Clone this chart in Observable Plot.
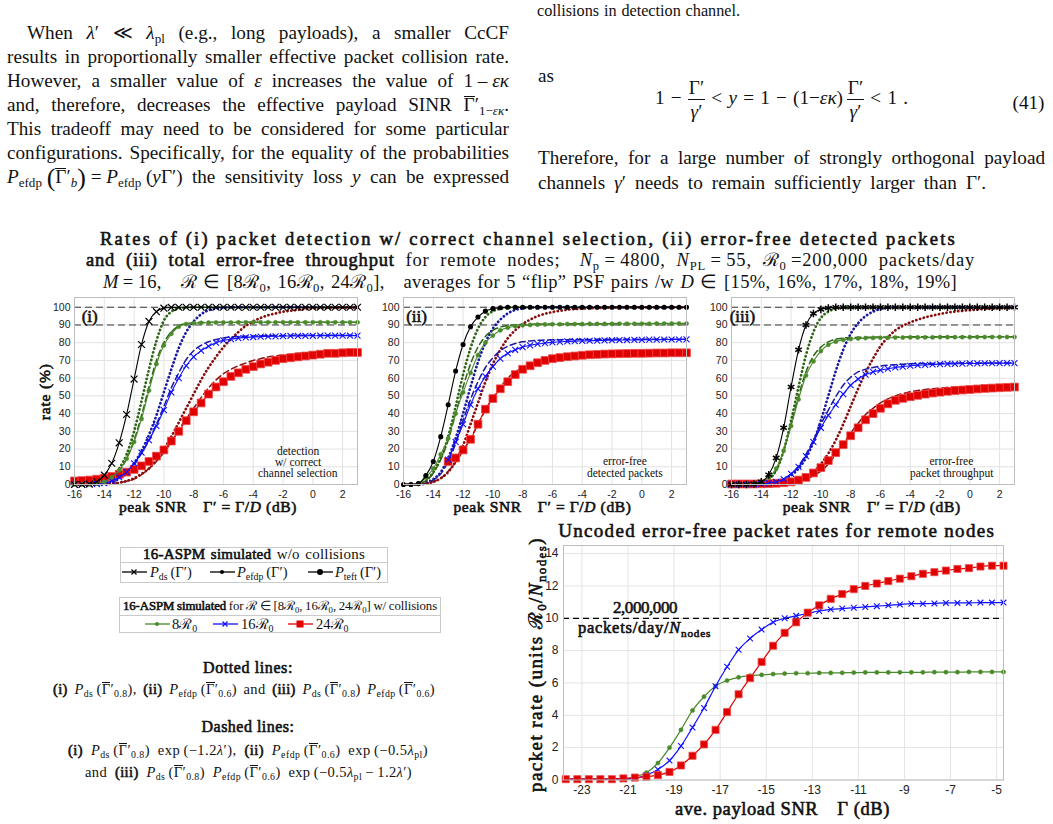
<!DOCTYPE html>
<html>
<head>
<meta charset="utf-8">
<script src="https://cdn.jsdelivr.net/npm/d3@7"></script>
<script src="https://cdn.jsdelivr.net/npm/@observablehq/plot@0.6"></script>
<style>
  html, body { margin: 0; padding: 0; background: #fff; }
  #page { position: relative; width: 1053px; height: 824px; overflow: hidden;
          font-family: "Liberation Serif", "Times New Roman", serif; color: #111; }
  .t { position: absolute; white-space: nowrap; line-height: 1; text-decoration: none; }
  .t sub { font-size: 68%; vertical-align: -0.32em; line-height: 0; }
  .t b { font-weight: normal; -webkit-text-stroke: 0.6px currentColor; }
  .nw { word-spacing: 0; }
  .ol { display: inline-block; border-top: 0.065em solid currentColor; line-height: 0.88em; }
  .bp { font-size: 135%; vertical-align: -0.1em; line-height: 0; }
  .frac { display: inline-block; vertical-align: middle; text-align: center; }
  .frac > span { display: block; line-height: 1.2; padding: 0 1px; }
  .frac > span.den { border-top: 1px solid #111; }
  .chart { position: absolute; }
  .box { position: absolute; border: 1px solid #cacaca; box-sizing: border-box; }
  .sep { position: absolute; border-top: 1px solid #cacaca; }
</style>
</head>
<body>
<div id="page"></div>
<script>
// ---------- peak SNR grid (dB) shared by the three rate panels ----------
const gammaPeak = [-16,-15.5,-15,-14.5,-14,-13.5,-13,-12.5,-12,-11.5,-11,-10.5,-10,-9.5,-9,-8.5,-8,-7.5,-7,-6.5,-6,-5.5,-5,-4.5,-4,-3.5,-3,-2.5,-2,-1.5,-1,-0.5,0,0.5,1,1.5,2,2.5,3];
const xTicksPeak = [-16,-14,-12,-10,-8,-6,-4,-2,0,2];
const yTicksRate = [0,10,20,30,40,50,60,70,80,90,100];
const refLevels = [90, 100];

// ---------- (i) detection w/ correct channel selection (%) ----------
const detSim = [0,0,0.3,1.5,5.3,12,23.5,39.5, 59.5,79,92,97.5,99.5,99.9,100,100, 100,100,100,100,100,100,100,100, 100,100,100,100,100,100,100,100, 100,100,100,100,100,100,100];
const detG8 = [0,0,0,0.5,1.5,4,8,14.5, 24,37,53,68,78.5,85,89,90.5, 91,91.2,91.3,91.4,91.4,91.4,91.5,91.5, 91.5,91.5,91.5,91.5,91.5,91.5,91.5,91.5, 91.5,91.5,91.5,91.5,91.5,91.5,91.5];
const detG8Dot = [0,0,0.1,0.5,1.5,4,9,17, 30,47,65,81,92.5,97.5,99.3,99.8, 100,100,100,100,100,100,100,100, 100,100,100,100,100,100,100,100, 100,100,100,100,100,100,100];
const detG8Dash = [0,0,0,0.3,1.2,3.5,7.5,14.5, 25,39,55,70,80,86,89.5,90.8, 91.2,91.4,91.5,91.5,91.5,91.6,91.6,91.6, 91.6,91.6,91.6,91.6,91.6,91.6,91.6,91.6, 91.6,91.6,91.6,91.6,91.6,91.6,91.6];
const detB16 = [0,0,0,0.2,0.8,2,4,7, 12,18,25,33,42,52,60,67, 72,75.5,78,80,81.3,82,82.6,83, 83.2,83.4,83.5,83.6,83.7,83.8,83.8,83.9, 83.9,84,84,84,84,84,84];
const detB16Dot = [0,0,0,0.2,0.6,1.5,3.5,7, 12,19,28,39,52,65,77,86, 92,96,98.3,99.3,99.7,99.9,100,100, 100,100,100,100,100,100,100,100, 100,100,100,100,100,100,100];
const detB16Dash = [0,0,0,0.1,0.5,1.3,3,6, 11,17.5,25,34,44,54.5,63,70.5, 75.5,78.5,80.5,81.8,82.7,83.2,83.5,83.7, 83.8,83.9,84,84,84.1,84.1,84.2,84.2, 84.2,84.2,84.2,84.2,84.2,84.2,84.2];
const detR24 = [2,2.2,2.5,3,3.6,4.5,5.8,7, 8.5,10.5,13,16,19.5,24.5,30,36, 41,46,51,55,58,61,63,65, 66.5,68,69,70,71,71.5,72,72.5, 73,73.5,74,74,74.3,74.5,74.5];
const detR24Dot = [0,0,0,0,0.2,0.5,1,2, 3.5,6,9,14,20,27,35,43, 51,59,66,72,77.5,82,86,89.5, 92,94,95.5,96.5,97.5,98,98.5,99, 99.3,99.5,99.6,99.7,99.8,99.8,99.9];
const detR24Dash = [0,0,0,0,0.2,0.5,1,1.8, 3,5.5,9,13,18,24,31,37, 43,49,54.5,59,62.5,65,67,68.5, 70,71,72,72.5,73,73.5,74,74.3, 74.6,74.8,75,75.2,75.3,75.4,75.5];

// ---------- (ii) error-free detected packets (%) ----------
const efdSim = [0,0,0.5,5,13,27,45,64, 79,89,94.5,97.8,99.2,99.7,100,100, 100,100,100,100,100,100,100,100, 100,100,100,100,100,100,100,100, 100,100,100,100,100,100,100];
const efdG8 = [null,0,0.5,4,9,17,26,40, 52,63,73,80,84,87,88.5,89.3, 89.8,90,90.2,90.3,90.4,90.4,90.5,90.5, 90.5,90.6,90.6,90.6,90.6,90.7,90.7,90.7, 90.7,90.7,90.8,90.8,90.8,90.8,90.8];
const efdG8Dot = [0,0,0.3,2,7,15,27,44, 62,77,88,94.5,97.8,99.2,99.8,100, 100,100,100,100,100,100,100,100, 100,100,100,100,100,100,100,100, 100,100,100,100,100,100,100];
const efdG8Dash = [0,0,0.3,2,6.5,14,25,40, 55,68,77.5,83.5,87,88.8,89.7,90.1, 90.3,90.4,90.5,90.5,90.6,90.6,90.6,90.7, 90.7,90.7,90.7,90.7,90.8,90.8,90.8,90.8, 90.8,90.8,90.8,90.8,90.8,90.8,90.8];
const efdB16 = [null,null,null,null,null,null,14,24, 34,45,54,61,66.5,71,74,76, 77.5,78.5,79.3,79.8,80.2,80.5,80.7,80.9, 81,81.1,81.2,81.3,81.4,81.5,81.5,81.6, 81.6,81.7,81.7,81.8,81.8,81.8,81.9];
const efdB16Dot = [0,0,0,1,3,7,15,26, 40,55,69,80,88,93,96.5,98.5, 99.4,99.8,100,100,100,100,100,100, 100,100,100,100,100,100,100,100, 100,100,100,100,100,100,100];
const efdB16Dash = [0,0,0,0.5,2.5,6,13,23, 36,48,58,66,71.5,75.5,78,79.5, 80.5,81,81.3,81.5,81.6,81.7,81.7,81.8, 81.8,81.8,81.9,81.9,81.9,82,82,82, 82,82,82,82,82,82,82];
const efdR24 = [null,null,null,null,null,null,13,15, 19.5,25.5,34,42.5,48.5,54,58,62, 65,67,68.7,70,71,71.6,72.1,72.5, 72.9,73.2,73.4,73.6,73.7,73.8,73.9,74, 74,74.1,74.2,74.2,74.3,74.3,74.3];
const efdR24Dot = [0,0,0,0.5,1.5,3.5,7,13, 22,34,46,58,68,76,82.5,87, 90.5,93,95,96.3,97.3,98,98.6,99, 99.3,99.5,99.6,99.7,99.8,99.9,99.9,99.9, 100,100,100,100,100,100,100];
const efdR24Dash = [0,0,0,0.3,1.5,3.5,7.5,12.5, 19,26,34,42,49,55,60,63.5, 66,68,69.5,70.5,71.3,72,72.4,72.8, 73.1,73.3,73.5,73.7,73.8,73.9,74,74, 74.1,74.2,74.2,74.3,74.3,74.3,74.4];

// ---------- (iii) error-free packet throughput (%) ----------
const thrSim = [0,0,0,0.3,1.5,5.5,15,32, 55,76,90,96.5,98.8,99.6,100,100, 100,100,100,100,100,100,100,100, 100,100,100,100,100,100,100,100, 100,100,100,100,100,100,100];
const thrG8 = [0,0,0,0.3,1.5,4,9,19, 33,48,61.5,69.5,75.3,78.8,80.6,81.6, 82.1,82.4,82.6,82.7,82.8,82.8,82.9,82.9, 83,83,83,83,83.1,83.1,83.1,83.1, 83.1,83.2,83.2,83.2,83.2,83.2,83.2];
const thrG8Dot = [0,0,0,0.2,1,3,8,19, 36,55,73,86,94,97.5,99.2,99.8, 100,100,100,100,100,100,100,100, 100,100,100,100,100,100,100,100, 100,100,100,100,100,100,100];
const thrG8Dash = [0,0,0,0.2,1,3,8,19, 34,50,63.5,72.5,77.5,80.5,82,82.6, 82.9,83,83.1,83.1,83.2,83.2,83.2,83.2, 83.3,83.3,83.3,83.3,83.3,83.3,83.3,83.3, 83.3,83.3,83.3,83.3,83.3,83.3,83.3];
const thrB16 = [0,0,0,0,0.3,0.8,1.5,3, 6,10,16,24,32,39,45,51, 56,59.5,62,63.5,64.5,65.3,66,66.5, 67,67.3,67.5,67.7,67.9,68,68.1,68.2, 68.3,68.3,68.4,68.4,68.5,68.5,68.5];
const thrB16Dot = [0,0,0,0,0.3,0.6,1,2.5, 5,9,15,24,36,50,64,76, 85,91,95,97.5,99,99.6,100,100, 100,100,100,100,100,100,100,100, 100,100,100,100,100,100,100];
const thrB16Dash = [0,0,0,0,0.3,0.7,1.5,3.2, 6,10.5,17,25,34,42,49.5,56, 60.5,63.5,65,66,66.8,67.3,67.6,67.9, 68.1,68.2,68.3,68.3,68.4,68.4,68.5,68.5, 68.5,68.6,68.6,68.6,68.6,68.6,68.6];
const thrR24 = [0.3,0.3,0.3,0.3,0.4,0.5,0.7,1, 1.5,2.5,4,6.5,9.5,13.5,18,22.5, 27.5,32,36.5,40,43,45.5,47.5,48.6, 49.5,50.3,51,51.6,52.1,52.6,53,53.3, 53.6,53.9,54.2,54.4,54.6,54.8,55];
const thrR24Dot = [0,0,0,0,0,0.2,0.5,0.8, 1.3,2.2,4,7,11.5,17.5,25,34, 44,54,63,71,78,83,87,89.5, 91.5,93,94.3,95.3,96.2,97,97.6,98, 98.4,98.7,99,99.2,99.4,99.5,99.6];
const thrR24Dash = [0,0,0,0,0,0,0.3,0.6, 1,1.8,3,5,7.5,11.5,17,23, 29,34.5,39.5,43,46,48.3,50,51.3, 52.3,53,53.6,54,54.4,54.7,55,55.2, 55.3,55.4,55.5,55.5,55.6,55.6,55.6];

// ---------- uncoded error-free packet rate vs. average payload SNR ----------
const gammaAve = [-23.7,-23.2,-22.7,-22.2,-21.7,-21.2,-20.7,-20.2,-19.7,-19.2,-18.7,-18.2,-17.7,-17.2,-16.7,-16.2,-15.7,-15.2,-14.7,-14.2,-13.7,-13.2,-12.7,-12.2,-11.7,-11.2,-10.7,-10.2,-9.7,-9.2,-8.7,-8.2,-7.7,-7.2,-6.7,-6.2,-5.7,-5.2,-4.7];
const xTicksAve = [-23,-21,-19,-17,-15,-13,-11,-9,-7,-5];
const yTicksAve = [0,2,4,6,8,10,12,14];
const targetRate = [10];
const rateG8 = [0.05,0.05,0.05,0.05,0.05,0.05,0.2,0.45, 1.05,2,3.1,4.3,5.15,5.8,6.15,6.35, 6.45,6.5,6.55,6.58,6.6,6.6,6.62,6.62, 6.63,6.64,6.65,6.65,6.65,6.66,6.66,6.66, 6.67,6.67,6.67,6.68,6.68,6.68,6.68];
const rateB16 = [0.05,0.05,0.05,0.05,0.05,0.05,0.1,0.3, 0.65,1.2,2.1,3.25,4.45,5.8,7,8.05, 8.75,9.3,9.75,10,10.15,10.3,10.45,10.55, 10.6,10.65,10.7,10.75,10.8,10.85,10.9,10.9, 10.92,10.95,10.95,10.95,10.97,10.97,10.97];
const rateR24 = [0.05,0.05,0.05,0.05,0.05,0.1,0.15,0.2, 0.3,0.5,0.9,1.5,2.2,3.1,4.2,5.3, 6.3,7.3,8.3,9.1,9.75,10.35,10.8,11.2, 11.5,11.8,12,12.15,12.3,12.45,12.6,12.75, 12.85,12.95,13.05,13.1,13.2,13.25,13.25];

// ---------- colours ----------
const C = {
  green: "#4a8a2a", greenDk: "#2d6415",
  blue: "#1010ff", blueDk: "#1a1aa0",
  red: "#e00000", redEdge: "#f04848", redDk: "#880c0c",
  ref: "#3a3a3a"
};

const page = document.getElementById("page");

// Positioned text; optional width fill by letter-spacing, word-spacing or both.
function put(html, o) {
  const d = document.createElement("div");
  d.className = "t";
  d.innerHTML = html;
  d.style.fontSize = (o.size || 14) + "px";
  if (o.color) d.style.color = o.color;
  page.appendChild(d);
  if (o.width) {
    const extra = o.width - d.getBoundingClientRect().width;
    const fixed = [...d.querySelectorAll(".nw")].reduce((s, e) => s + (e.textContent.match(/ /g) || []).length, 0);
    const nSp = (d.textContent.match(/ /g) || []).length - fixed;
    const nCh = [...d.textContent].length;
    if (o.fill === "word" && nSp) d.style.wordSpacing = (extra / nSp) + "px";
    else if (o.fill === "both" && nSp) {
      d.style.wordSpacing = (extra * 0.4 / nSp) + "px";
      d.style.letterSpacing = (extra * 0.6 / nCh) + "px";
    } else d.style.letterSpacing = (extra / nCh) + "px";
  }
  const w = d.offsetWidth, h = d.offsetHeight;
  const left = o.anchor === "start" ? o.x : o.anchor === "end" ? o.x - w : o.x - w / 2;
  d.style.left = left + "px";
  d.style.top = (o.y - h / 2) + "px";
  if (o.rotate) d.style.transform = `rotate(${o.rotate}deg)`;
  return d;
}
function block(cls, x, y, w, h) {
  const d = document.createElement("div");
  d.className = cls;
  Object.assign(d.style, {left: x + "px", top: y + "px", width: w + "px"});
  if (h != null) d.style.height = h + "px";
  page.appendChild(d);
}

// ---------- body text ----------
const G = '<span class="ol">Γ</span>′';
const bodyLines = [
  [`When <i>λ</i>′ ≪ <i>λ</i><sub>pl</sub> (e.g., long payloads), a smaller CcCF`, 27, 32],
  [`results in proportionally smaller effective packet collision rate.`, 7, 56],
  [`However, a smaller value of <i>ε</i> increases the value of <span class="nw">1 – <i>εκ</i></span>`, 7, 80],
  [`and, therefore, decreases the effective payload SINR ${G}<sub>1−<i>εκ</i></sub>.`, 7, 104],
  [`This tradeoff may need to be considered for some particular`, 7, 128],
  [`configurations. Specifically, for the equality of the probabilities`, 7, 152],
  [`<span class="nw"><i>P</i><sub>efdp</sub> <span class="bp">(</span>${G}<sub><i>b</i></sub><span class="bp">)</span> = <i>P</i><sub>efdp</sub> (<i>y</i>Γ′)</span> the sensitivity loss <i>y</i> can be expressed`, 7, 176]
];
bodyLines.forEach(([h, x, y]) => put(h, {x, y, size: 19.2, anchor: "start", width: 509 - x, fill: "word"}));

put(`collisions in detection channel.`, {x: 537, y: 11, size: 16.2, anchor: "start", width: 203, fill: "word"});
put(`as`, {x: 538, y: 75, size: 19.2, anchor: "start"});
// equation (41)
const frac = `<span class="frac"><span>Γ′</span><span class="den"><i>γ</i>′</span></span>`;
put(`1 − ${frac} &lt; <i>y</i> = 1 − (1−<i>εκ</i>)\u2009${frac} &lt; 1 .`, {x: 655, y: 99, size: 19.2, anchor: "start", width: 253, fill: "word"});
put(`(41)`, {x: 1028.5, y: 102, size: 19.2});
put(`Therefore, for a large number of strongly orthogonal payload`, {x: 538, y: 157, size: 19.2, anchor: "start", width: 507, fill: "word"});
put(`channels <i>γ</i>′ needs to remain sufficiently larger than Γ′.`, {x: 538, y: 182, size: 19.2, anchor: "start", width: 448, fill: "word"});

// ---------- figure heading ----------
const R0 = "ℛ<sub>0</sub>";
put(`<b>Rates of (i) packet detection w/ correct channel selection, (ii) error-free detected packets</b>`, {x: 100, y: 239, size: 18.5, anchor: "start", width: 857});
put(`<b>and (iii) total error-free throughput</b> for remote nodes;\u2003<i>N</i><sub>p</sub>\u2009=\u20094800, <i>N</i><sub>PL</sub>\u2009=\u200955, ${R0}\u2009=200,000 packets/day`, {x: 86, y: 260, size: 18.5, anchor: "start", width: 889, fill: "both"});
put(`<i>M</i>\u2009=\u200916,\u2003ℛ ∈ [8${R0}, 16${R0}, 24${R0}],\u2003averages for 5 “flip” PSF pairs /w <i>D</i> ∈ [15%, 16%, 17%, 18%, 19%]`, {x: 103, y: 282, size: 18.5, anchor: "start", width: 854, fill: "both"});

// ---------- rate panels ----------
const LINE = {
  dot:   {strokeWidth: 2.7, strokeDasharray: "0.2 3.7", strokeLinecap: "round"},
  dash:  {strokeWidth: 1.5, strokeDasharray: "6 3.5"},
  solid: {strokeWidth: 1.1}
};
const axisFont = {fontFamily: "'Liberation Sans', Arial, sans-serif", fontSize: "10.5px", color: "#222", background: "transparent", overflow: "visible"};

function ratePanel(s) {
  const pts = ys => gammaPeak.map((x, i) => ({x, y: ys[i]}));
  const line = (ys, stroke, kind) => Plot.line(pts(ys), {x: "x", y: "y", stroke, curve: "monotone-x", ...LINE[kind]});
  return Plot.plot({
    width: 329, height: 214,
    marginLeft: 40, marginRight: 6, marginTop: 7, marginBottom: 20,
    x: {domain: [-16, 3]},
    y: {domain: [0, 105.5]},
    style: axisFont,
    marks: [
      Plot.gridX({ticks: xTicksPeak, stroke: "#e2e2e2", strokeOpacity: 1}),
      Plot.gridY({ticks: yTicksRate, stroke: "#e2e2e2", strokeOpacity: 1}),
      Plot.ruleY(refLevels, {stroke: C.ref, strokeWidth: 1, strokeDasharray: "7 4"}),
      line(s.gDot, C.greenDk, "dot"), line(s.bDot, C.blueDk, "dot"), line(s.rDot, C.redDk, "dot"),
      line(s.gDash, C.greenDk, "dash"), line(s.bDash, C.blueDk, "dash"), line(s.rDash, C.redDk, "dash"),
      line(s.r, C.red, "solid"),
      Plot.dot(pts(s.r), {x: "x", y: "y", symbol: "square", r: 4.4, fill: C.red, stroke: C.redEdge, strokeWidth: 0.8}),
      line(s.b, C.blue, "solid"),
      Plot.dot(pts(s.b), {x: "x", y: "y", symbol: "times", r: 2.8, fill: "none", stroke: C.blue, strokeWidth: 1.1}),
      line(s.g, C.green, "solid"),
      Plot.dot(pts(s.g), {x: "x", y: "y", symbol: "circle", r: 2.1, fill: C.green, stroke: C.green, strokeWidth: 0.5}),
      line(s.sim, "#000", "solid"),
      Plot.dot(pts(s.sim), {x: "x", y: "y", ...s.simMark}),
      Plot.frame({stroke: "#bdbdbd"}),
      Plot.axisX({ticks: xTicksPeak, tickSize: 0, tickPadding: 6, tickFormat: d => String(d), label: null}),
      Plot.axisY({ticks: yTicksRate, tickSize: 0, tickPadding: 4, tickFormat: d => String(d), label: null})
    ]
  });
}
function mount(svg, left, top) {
  const d = document.createElement("div");
  d.className = "chart";
  d.style.left = left + "px"; d.style.top = top + "px";
  d.appendChild(svg);
  page.appendChild(d);
}

mount(ratePanel({sim: detSim, simMark: {symbol: "times", r: 3.2, fill: "none", stroke: "#000", strokeWidth: 1.2},
  g: detG8, gDot: detG8Dot, gDash: detG8Dash, b: detB16, bDot: detB16Dot, bDash: detB16Dash,
  r: detR24, rDot: detR24Dot, rDash: detR24Dash}), 34, 290);
mount(ratePanel({sim: efdSim, simMark: {symbol: "circle", r: 1.8, fill: "#000", stroke: "#000"},
  g: efdG8, gDot: efdG8Dot, gDash: efdG8Dash, b: efdB16, bDot: efdB16Dot, bDash: efdB16Dash,
  r: efdR24, rDot: efdR24Dot, rDash: efdR24Dash}), 363, 290);
mount(ratePanel({sim: thrSim, simMark: {symbol: "asterisk", r: 3.6, fill: "none", stroke: "#000", strokeWidth: 1.5},
  g: thrG8, gDot: thrG8Dot, gDash: thrG8Dash, b: thrB16, bDot: thrB16Dot, bDash: thrB16Dash,
  r: thrR24, rDot: thrR24Dot, rDash: thrR24Dash}), 691, 290);

// panel tags, notes and axis titles
put("<b>(i)</b>", {x: 89.7, y: 316, size: 17});
put("<b>(ii)</b>", {x: 416.7, y: 316.5, size: 17});
put("<b>(iii)</b>", {x: 742.7, y: 316.5, size: 17});
[["detection", 298, 451.5], ["w/ correct", 298, 462.5], ["channel selection", 298, 473.5],
 ["error-free", 625, 461.5], ["detected packets", 625, 473.5],
 ["error-free", 951.5, 461.5], ["packet throughput", 951.5, 473.5]]
  .forEach(([h, x, y]) => put(h, {x, y, size: 11.5}));
const xTitle = `<b>peak SNR\u2003Γ′ = Γ/<i>D</i> (dB)</b>`;
[208, 542.5, 871.7].forEach(x => put(xTitle, {x, y: 507, size: 15.5, width: 178}));
put("<b>rate (%)</b>", {x: 44.7, y: 392, size: 15.5, rotate: -90, width: 57});

// ---------- packet-rate chart ----------
{
  const pts = ys => gammaAve.map((x, i) => ({x, y: ys[i]}));
  const chart = Plot.plot({
    width: 490, height: 266,
    marginLeft: 40, marginRight: 10, marginTop: 7, marginBottom: 24.5,
    x: {domain: [-23.8, -4.7]},
    y: {domain: [0, 14.5]},
    style: {...axisFont, fontSize: "12px"},
    marks: [
      Plot.gridX({ticks: xTicksAve, stroke: "#e4e4e4", strokeOpacity: 1}),
      Plot.gridY({ticks: yTicksAve, stroke: "#e4e4e4", strokeOpacity: 1}),
      Plot.ruleY(targetRate, {stroke: "#000", strokeWidth: 1.3, strokeDasharray: "6 4"}),
      Plot.line(pts(rateG8), {x: "x", y: "y", stroke: C.green, strokeWidth: 1.2, curve: "monotone-x"}),
      Plot.dot(pts(rateG8), {x: "x", y: "y", r: 2.1, fill: C.green, stroke: C.green, strokeWidth: 0.5}),
      Plot.line(pts(rateB16), {x: "x", y: "y", stroke: C.blue, strokeWidth: 1.2, curve: "monotone-x"}),
      Plot.dot(pts(rateB16), {x: "x", y: "y", symbol: "times", r: 2.7, fill: "none", stroke: C.blue, strokeWidth: 1.1}),
      Plot.line(pts(rateR24), {x: "x", y: "y", stroke: C.red, strokeWidth: 1.2, curve: "monotone-x"}),
      Plot.dot(pts(rateR24), {x: "x", y: "y", symbol: "square", r: 4, fill: C.red, stroke: C.redEdge, strokeWidth: 0.8}),
      Plot.frame({stroke: "#bdbdbd"}),
      Plot.axisX({ticks: xTicksAve, tickSize: 0, tickPadding: 5, tickFormat: d => String(d), label: null}),
      Plot.axisY({ticks: yTicksAve, tickSize: 0, tickPadding: 5, tickFormat: d => String(d), label: null})
    ]
  });
  mount(chart, 523, 538);
}
put("<b>Uncoded error-free packet rates for remote nodes</b>", {x: 776.7, y: 530, size: 19, width: 437});
put(`<b>packet rate (units ${R0}/<i>N</i><sub>nodes</sub>)</b>`, {x: 535, y: 664, size: 19, rotate: -90, width: 255});
put("<b>ave. payload SNR\u2003Γ (dB)</b>", {x: 782.5, y: 809, size: 18.5, width: 215});
put("<b>2,000,000</b>", {x: 645, y: 607, size: 17, width: 64});
put("<b>packets/day/<i>N</i><sub>nodes</sub></b>", {x: 578, y: 628, size: 16.5, anchor: "start", width: 133});

// ---------- legend boxes ----------
function swatch(x, y, color, mark) {
  const d = document.createElement("div");
  d.className = "chart";
  d.style.left = x + "px"; d.style.top = (y - 6) + "px";
  const glyph = {
    times: `<path d="M9.5,3.5L14.5,8.5M14.5,3.5L9.5,8.5" stroke="${color}" stroke-width="1.2"/>`,
    dot: `<circle cx="12" cy="6" r="2" fill="${color}"/>`,
    bigdot: `<circle cx="12" cy="6" r="3" fill="${color}"/>`,
    square: `<rect x="8.5" y="2.5" width="7" height="7" fill="${color}"/>`
  }[mark];
  d.innerHTML = `<svg width="25" height="12" style="display:block"><line x1="0" y1="6" x2="25" y2="6" stroke="${color}" stroke-width="1.3"/>${glyph}</svg>`;
  page.appendChild(d);
}
block("box", 120, 546.5, 268, 36);
block("sep", 120, 562, 268);
put("<b>16-ASPM simulated</b> w/o collisions", {x: 254, y: 554.5, size: 15, width: 222, fill: "both"});
swatch(122, 572, "#000", "times");
put("<i>P</i><sub>ds</sub>\u2009(Γ′)", {x: 150, y: 572, size: 14.5, anchor: "start"});
swatch(210, 572, "#000", "dot");
put("<i>P</i><sub>efdp</sub>\u2009(Γ′)", {x: 237, y: 572, size: 14.5, anchor: "start"});
swatch(308, 572, "#000", "bigdot");
put("<i>P</i><sub>teft</sub>\u2009(Γ′)", {x: 335, y: 572, size: 14.5, anchor: "start"});

block("box", 119, 597, 322, 36);
block("sep", 119, 615, 322);
put(`<b>16-ASPM simulated</b> for ℛ ∈ [8${R0}, 16${R0}, 24${R0}] w/ collisions`, {x: 280, y: 606, size: 12.8, width: 314, fill: "both"});
swatch(145, 624, C.green, "dot");
put(`8${R0}`, {x: 172, y: 624, size: 14.5, anchor: "start"});
swatch(213, 624, C.blue, "times");
put(`16${R0}`, {x: 241, y: 624, size: 14.5, anchor: "start"});
swatch(288, 624, C.red, "square");
put(`24${R0}`, {x: 316, y: 624, size: 14.5, anchor: "start"});

// ---------- line-style key ----------
const g8 = `<span class="ol">Γ</span>′<sub>0.8</sub>`, g6 = `<span class="ol">Γ</span>′<sub>0.6</sub>`;
const Pds = `<i>P</i><sub>ds</sub>\u2009(${g8})`, Pef = `<i>P</i><sub>efdp</sub>\u2009(${g6})`;
put("<b>Dotted lines:</b>", {x: 248, y: 668, size: 16, width: 90});
put(`<b>(i)</b> ${Pds}, <b>(ii)</b> ${Pef} and <b>(iii)</b> ${Pds} ${Pef}`, {x: 53, y: 689, size: 14.5, anchor: "start", width: 382, fill: "both"});
put("<b>Dashed lines:</b>", {x: 248, y: 727, size: 16, width: 93});
put(`<b>(i)</b> ${Pds} exp\u2009(−1.2<i>λ</i>′), <b>(ii)</b> ${Pef} exp\u2009(−0.5<i>λ</i><sub>pl</sub>)`, {x: 68, y: 750, size: 14.5, anchor: "start", width: 360, fill: "both"});
put(`and <b>(iii)</b> ${Pds} ${Pef} exp\u2009(−0.5<i>λ</i><sub>pl</sub>\u2009−\u20091.2<i>λ</i>′)`, {x: 85, y: 772, size: 14.5, anchor: "start", width: 327, fill: "both"});
</script>
</body>
</html>
